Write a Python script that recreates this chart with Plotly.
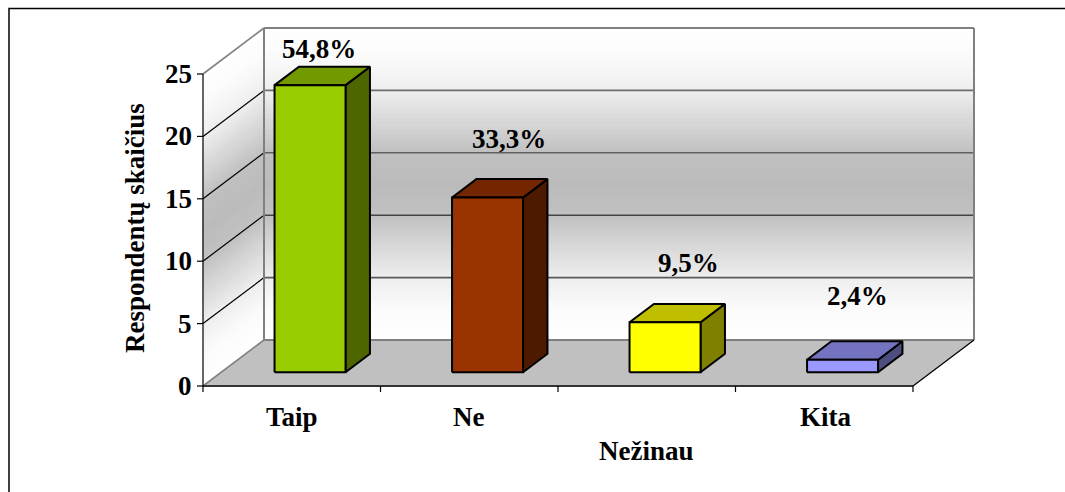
import plotly.graph_objects as go

categories = ["Taip", "Ne", "Nežinau", "Kita"]
respondents = [23, 14, 4, 1]
pct_labels = ["54,8%", "33,3%", "9,5%", "2,4%"]
y_ticks = [0, 5, 10, 15, 20, 25]
axis_title = "Respondentų skaičius"

front_colors = ["#99CC00", "#993300", "#FFFF00", "#9999FF"]
top_colors = ["#739900", "#732600", "#BFBF00", "#7373BF"]
side_colors = ["#4D6600", "#4D1A00", "#808000", "#4D4D80"]
grid_colors = {5: "#5A5A5A", 10: "#444444", 15: "#606060", 20: "#6E6E6E"}
wall_stops = [(0, 255), (0.1, 251), (0.2, 238), (0.3, 216), (0.4, 193), (0.5, 187),
              (0.6, 192), (0.7, 215), (0.8, 238), (0.9, 250), (1, 255)]

# oblique projection: c = category units, v = value, d = depth 0..1
X0, Y0, CW, VH, DX, DY = 203, 386, 177.5, 12.48, 61, 46
NC = len(categories)
VMAX = 25
FONT = "Liberation Serif"


def P(c, v, d=0.0):
    return X0 + c * CW + d * DX, Y0 - v * VH - d * DY


def poly(fig, pts, fill, line=None, width=0):
    xs = [p[0] for p in pts] + [pts[0][0]]
    ys = [p[1] for p in pts] + [pts[0][1]]
    fig.add_trace(go.Scatter(x=xs, y=ys, mode="lines", fill="toself", fillcolor=fill,
                             line=dict(color=line or fill, width=width if line else 1),
                             hoverinfo="skip", showlegend=False))


def seg(fig, a, b, color, width):
    fig.add_trace(go.Scatter(x=[a[0], b[0]], y=[a[1], b[1]], mode="lines",
                             line=dict(color=color, width=width),
                             hoverinfo="skip", showlegend=False))


def wall_gray(t):
    for (t0, g0), (t1, g1) in zip(wall_stops, wall_stops[1:]):
        if t0 <= t <= t1:
            g = round(g0 + (g1 - g0) * (t - t0) / (t1 - t0))
            return f"rgb({g},{g},{g})"
    return "rgb(255,255,255)"


fig = go.Figure()

# floor
poly(fig, [P(0, 0, 0), P(NC, 0, 0), P(NC, 0, 1), P(0, 0, 1)], "#C0C0C0")

# back and side wall gradient strips
STRIPS = 80
for k in range(STRIPS):
    v0, v1 = VMAX * k / STRIPS, VMAX * (k + 1) / STRIPS
    col = wall_gray((k + 0.5) / STRIPS)
    poly(fig, [P(0, v0, 1), P(NC, v0, 1), P(NC, v1, 1), P(0, v1, 1)], col)
    poly(fig, [P(0, v0, 0), P(0, v0, 1), P(0, v1, 1), P(0, v1, 0)], col)

# grid
for v in y_ticks:
    mid = 0 < v < VMAX
    seg(fig, P(0, v, 0), P(0, v, 1), "#000000" if mid else "#808080", 1.2 if mid else 1.6)
    seg(fig, P(0, v, 1), P(NC, v, 1), grid_colors.get(v, "#808080"), 1.6 if mid else 2)
seg(fig, P(0, 0, 1), P(0, VMAX, 1), "#808080", 2)
seg(fig, P(NC, 0, 1), P(NC, VMAX, 1), "#808080", 2)

# axes
seg(fig, P(0, 0, 0), P(NC, 0, 0), "#333333", 2)
seg(fig, P(NC, 0, 0), P(NC, 0, 1), "#000000", 1.2)
seg(fig, P(0, 0, 0), P(0, VMAX, 0), "#000000", 1.2)
for v in y_ticks:
    x, y = P(0, v, 0)
    seg(fig, (x - 6, y), (x, y), "#000000", 1.2)
for c in range(NC + 1):
    x, y = P(c, 0, 0)
    seg(fig, (x, y), (x, y + 6), "#000000", 1.2)

# bars
for i, val in enumerate(respondents):
    c0, c1, d0, d1 = i + 0.3, i + 0.7, 0.3, 0.7
    poly(fig, [P(c1, 0, d0), P(c1, 0, d1), P(c1, val, d1), P(c1, val, d0)], side_colors[i], "#000000", 2)
    poly(fig, [P(c0, val, d0), P(c1, val, d0), P(c1, val, d1), P(c0, val, d1)], top_colors[i], "#000000", 2)
    poly(fig, [P(c0, 0, d0), P(c1, 0, d0), P(c1, val, d0), P(c0, val, d0)], front_colors[i], "#000000", 2)

anns = []


def text(x, y, s, anchor="center", angle=0, size=27):
    anns.append(dict(x=x, y=y, text=s, showarrow=False, xanchor=anchor, yanchor="middle",
                     textangle=angle, font=dict(family=FONT, size=size, color="#000000"),
                     xref="x", yref="y"))


for v in y_ticks:
    text(194, P(0, v, 0)[1], f"<b>{v}</b>", anchor="right")

cat_rows = [0, 0, 1, 0]
cat_nudge = [0, -1, 0, 1]
for i, cat in enumerate(categories):
    x = P(i + 0.5, 0, 0)[0] + cat_nudge[i]
    text(x, 417 + cat_rows[i] * 34, f"<b>{cat}</b>")

label_pos = [(319, 49), (509, 139), (688, 263), (857, 296)]
for (x, y), s in zip(label_pos, pct_labels):
    text(x, y, f"<b>{s}</b>")

text(135, 228, f"<b>{axis_title}</b>", angle=-90)

# chart frame (open at right and bottom)
fig.add_trace(go.Scatter(x=[9, 9, 1065], y=[492, 8.5, 8.5], mode="lines",
                         line=dict(color="#000000", width=1.5),
                         hoverinfo="skip", showlegend=False))

fig.update_layout(
    width=1065, height=492, margin=dict(l=0, r=0, t=0, b=0),
    paper_bgcolor="#FFFFFF", plot_bgcolor="#FFFFFF", showlegend=False,
    xaxis=dict(range=[0, 1065], visible=False, fixedrange=True),
    yaxis=dict(range=[492, 0], visible=False, fixedrange=True),
    annotations=anns,
)

fig.write_html("out.html", config=dict(displayModeBar=False),
               post_script="document.body.style.margin='0';document.documentElement.style.overflow='hidden';")
